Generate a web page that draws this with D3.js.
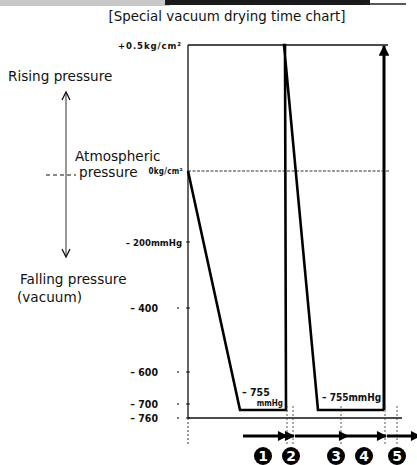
<!DOCTYPE html>
<html><head><meta charset="utf-8">
<script src="https://cdn.jsdelivr.net/npm/d3@7"></script>
<style>body{margin:0;background:#fff}svg{display:block}</style>
</head><body>
<script>
// ---- data ----
const title = "[Special vacuum drying time chart]";
// pressure in mmHg (positive part: +0.5 kg/cm² ≈ 368 mmHg)
const pressureLevels = [-760, -755, -700, -600, -400, -200, 0, 368];
const tickValues = [368, 0, -200, -400, -600, -700, -760];
const tickLabels = ["+0.5kg/cm²", "0kg/cm²", "– 200mmHg", "– 400", "– 600", "– 700", "– 760"];
// drying cycle: time (arbitrary units) and pressure (mmHg)
const cycleTime = [0, 52, 98, 97, 96, 130, 196];
const cyclePressure = [0, -755, -755, 368, 368, -755, -755];
const finalRiseTime = [196, 196];
const finalRisePressure = [-755, 368];
// step boundaries and step arrows
const stepBounds = [99, 105, 153, 197, 209];
const stepStart = [55, 99, 107, 160, 199];
const stepEnd = [99, 106, 160, 198, 232];
const stepLabels = ["1", "2", "3", "4", "5"];
const stepLabelTime = [75, 103, 148, 176, 209];

const W = 417, H = 465;
const svg = d3.select("body").append("svg").attr("width", W).attr("height", H)
  .style("font-family", "DejaVu Sans, sans-serif");

// scan band at the top
svg.append("rect").attr("x",0).attr("y",0).attr("width",170).attr("height",6).attr("fill","#c8c8c8");
svg.append("rect").attr("x",165).attr("y",0).attr("width",205).attr("height",5).attr("fill","#1a1a1a");
svg.append("line").attr("x1",365).attr("x2",406).attr("y1",4).attr("y2",4).attr("stroke","#222").attr("stroke-width",1.6);

const x = d3.scaleLinear().domain([0, 214]).range([188, 402]);
const y = d3.scaleLinear().domain(pressureLevels).range([418, 410, 404, 372, 308, 242, 171, 45]);

svg.append("text").attr("x", 227).attr("y", 21).attr("text-anchor","middle")
  .attr("font-size", 13.4).attr("fill","#111").text(title);

// y axis line
svg.append("line").attr("x1", x(0)).attr("x2", x(0)).attr("y1", y(368)).attr("y2", y(-760))
  .attr("stroke","#111").attr("stroke-width",1.3);
svg.append("line").attr("x1", x(0)).attr("x2", x(0)).attr("y1", y(-760)).attr("y2", 445)
  .attr("stroke","#333").attr("stroke-width",1).attr("stroke-dasharray","2,2");
// top, zero and base lines
svg.append("line").attr("x1", x(0)).attr("x2", x(200)).attr("y1", y(368)).attr("y2", y(368))
  .attr("stroke","#111").attr("stroke-width",1.4);
svg.append("line").attr("x1", x(0)).attr("x2", x(202)).attr("y1", y(0)).attr("y2", y(0))
  .attr("stroke","#333").attr("stroke-width",1.1).attr("stroke-dasharray","3,1.5");
svg.append("line").attr("x1", x(0)).attr("x2", x(214)).attr("y1", y(-760)).attr("y2", y(-760))
  .attr("stroke","#111").attr("stroke-width",1.4);

// axis ticks
const tg = svg.append("g").attr("fill","#111").style("font-family","DejaVu Sans Condensed, DejaVu Sans")
  .attr("font-weight","bold");
tickValues.forEach((v,i)=>{
  const lab = tickLabels[i];
  let tx = x(0) - 6, fs = 9.5, ls = 0, dy = 3.5;
  if (v > 0) { fs = 9.5; ls = 0.9; }
  if (Math.abs(v) >= 400 && v < 0) { tx = x(0) - 30; fs = 10.5; }
  if (v === 0) { tx = x(0) - 5; fs = 8; ls = 0.3; dy = 3; }
  tg.append("text").attr("x", tx).attr("y", y(v) + dy).attr("text-anchor", "end")
    .attr("font-size", fs).attr("letter-spacing", ls).text(lab);
  if (v < 0) {
    svg.append("line").attr("x1", x(0)-2).attr("x2", x(0)+2).attr("y1", y(v)).attr("y2", y(v))
      .attr("stroke","#111").attr("stroke-width",1);
    if (v <= -400) svg.append("circle").attr("cx", x(0)-10).attr("cy", y(v)).attr("r",0.9).attr("fill","#444");
  }
});

// cycle line
const line = d3.line().x(d=>x(d[0])).y(d=>y(d[1]));
svg.append("path").datum(cycleTime.map((t,i)=>[t, cyclePressure[i]]))
  .attr("d", line).attr("fill","none").attr("stroke","#000").attr("stroke-width",2.6).attr("stroke-linejoin","miter");

// arrow marker
svg.append("defs").append("marker").attr("id","ah").attr("viewBox","0 0 10 10").attr("refX",9).attr("refY",5)
  .attr("markerWidth",4.2).attr("markerHeight",3.6).attr("markerUnits","strokeWidth").attr("orient","auto")
  .append("path").attr("d","M0,0L10,5L0,10z").attr("fill","#000");
svg.append("line").attr("x1", x(finalRiseTime[0])).attr("x2", x(finalRiseTime[1]))
  .attr("y1", y(finalRisePressure[0])).attr("y2", y(finalRisePressure[1]) + 1)
  .attr("stroke","#000").attr("stroke-width",3).attr("marker-end","url(#ah)");

// trough labels
const lg = svg.append("g").attr("fill","#111").attr("font-weight","bold")
  .style("font-family","DejaVu Sans Condensed, DejaVu Sans");
lg.append("text").attr("x", x(54)).attr("y", y(-755) - 14).attr("font-size",10.5).text("– 755");
lg.append("text").attr("x", x(95)).attr("y", y(-755) - 4).attr("text-anchor","end").attr("font-size",8).text("mmHg");
lg.append("text").attr("x", x(134)).attr("y", y(-755) - 9).attr("font-size",10).text("– 755mmHg");

// step boundaries
stepBounds.forEach(t=>{
  svg.append("line").attr("x1", x(t)).attr("x2", x(t)).attr("y1", y(-755) - 4).attr("y2", 446)
    .attr("stroke","#444").attr("stroke-width",0.9).attr("stroke-dasharray","2,2");
});

// step arrows
const ay = 436;
stepStart.forEach((s,i)=>{
  svg.append("line").attr("x1", x(s)).attr("x2", x(stepEnd[i])).attr("y1", ay).attr("y2", ay)
    .attr("stroke","#000").attr("stroke-width",2.8).attr("marker-end","url(#ah)");
});

// step numbers
stepLabels.forEach((s,i)=>{
  const cx = x(stepLabelTime[i]);
  svg.append("circle").attr("cx", cx).attr("cy", 456).attr("r", 9).attr("fill","#000");
  svg.append("text").attr("x", cx).attr("y", 461).attr("text-anchor","middle").attr("font-size",14)
    .attr("font-weight","bold").attr("fill","#fff").text(s);
});

// left annotations
const ann = svg.append("g").attr("fill","#111").attr("font-size",13.6);
ann.append("text").attr("x", 8).attr("y", 81).text("Rising pressure");
ann.append("text").attr("x", 75).attr("y", 161).text("Atmospheric");
ann.append("text").attr("x", 79).attr("y", 177).text("pressure");
ann.append("text").attr("x", 20).attr("y", 284).text("Falling pressure");
ann.append("text").attr("x", 17).attr("y", 302).text("(vacuum)");

svg.append("line").attr("x1", 66).attr("x2", 66).attr("y1", 93).attr("y2", 256)
  .attr("stroke","#333").attr("stroke-width",1);
svg.append("path").attr("d","M62,100 L66,92 L70,100").attr("fill","none").attr("stroke","#111").attr("stroke-width",1.3);
svg.append("path").attr("d","M62,249 L66,257 L70,249").attr("fill","none").attr("stroke","#111").attr("stroke-width",1.3);
svg.append("line").attr("x1", 46).attr("x2", 76).attr("y1", 175).attr("y2", 175)
  .attr("stroke","#111").attr("stroke-width",1.2).attr("stroke-dasharray","4,3");
</script>
</body></html>
